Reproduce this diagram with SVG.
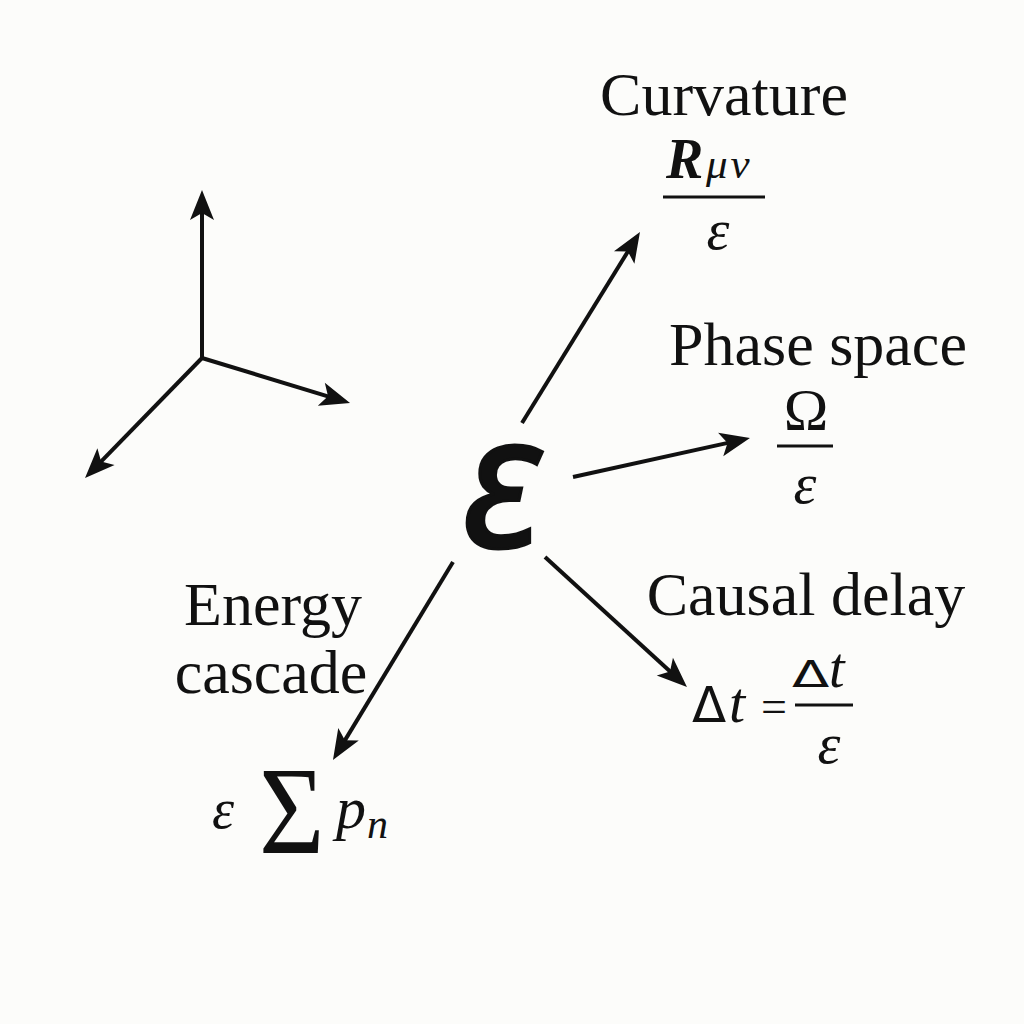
<svg xmlns="http://www.w3.org/2000/svg" width="1024" height="1024" viewBox="0 0 1024 1024">
<defs>
<style>
.lbl{font-family:"Liberation Serif","Times New Roman",serif;font-size:62px;fill:#111;text-anchor:middle}
.m{font-family:"Liberation Serif","Times New Roman",serif;fill:#111}
.s{font-family:"DejaVu Sans","Liberation Sans",sans-serif;fill:#111}
.i{font-style:italic}
.ln{stroke:#111;stroke-width:4;fill:none;stroke-linecap:butt;stroke-linejoin:miter}
.bar{stroke:#111;stroke-width:3}
</style>
<marker id="ah" markerUnits="userSpaceOnUse" markerWidth="34" markerHeight="28" viewBox="-14 -14 34 28" refX="0" refY="0" orient="auto" overflow="visible">
<path d="M18,0 L-12,-12 L-5,0 L-12,12 Z" fill="#111"/>
</marker>
</defs>
<rect width="1024" height="1024" fill="#fcfcfa"/>

<g id="axes">
<line class="ln" x1="202" y1="358" x2="202" y2="208" marker-end="url(#ah)"/>
<line class="ln" x1="202" y1="358" x2="332.8" y2="397.8" marker-end="url(#ah)"/>
<line class="ln" x1="202" y1="358" x2="97.6" y2="465.1" marker-end="url(#ah)"/>
</g>

<g id="connectors">
<line class="ln" x1="522" y1="423" x2="630.5" y2="247.3" marker-end="url(#ah)"/>
<line class="ln" x1="573" y1="477" x2="732.4" y2="441.9" marker-end="url(#ah)"/>
<line class="ln" x1="545" y1="557" x2="673.7" y2="674.8" marker-end="url(#ah)"/>
<line class="ln" x1="453" y1="562" x2="342.3" y2="744.6" marker-end="url(#ah)"/>
</g>

<g id="center">
<text x="501" y="547" text-anchor="middle" style="font-family:'Noto Sans','DejaVu Sans',sans-serif;font-weight:normal;font-style:italic;font-size:186px;stroke:#111;stroke-width:3;fill:#111">ε</text>
</g>

<g id="curvature">
<text class="lbl" x="724" y="115">Curvature</text>
<text class="m i" x="666" y="178" style="font-weight:bold;font-size:56px">R</text>
<text class="m i" x="706" y="178" style="font-size:43px;letter-spacing:3px">μν</text>
<line class="bar" x1="663" y1="197" x2="765" y2="197"/>
<text class="m i" x="718" y="249" text-anchor="middle" style="font-size:58px">ε</text>
</g>

<g id="phase">
<text class="lbl" x="818" y="365">Phase space</text>
<text class="m" x="806" y="430" text-anchor="middle" style="font-size:60px">Ω</text>
<line class="bar" x1="777" y1="446" x2="833" y2="446"/>
<text class="m i" x="805" y="503" text-anchor="middle" style="font-size:58px">ε</text>
</g>

<g id="causal">
<text class="lbl" x="806" y="615">Causal delay</text>
<text class="s" x="692" y="722" style="font-size:50px">Δ</text>
<text class="m i" x="729" y="722" style="font-size:58px">t</text>
<text class="m" x="761" y="722" style="font-size:46px">=</text>
<text class="s" transform="translate(792,687) scale(1.05,0.7)" style="font-size:52px">Δ</text>
<text class="m i" x="829" y="687" style="font-size:56px">t</text>
<line class="bar" x1="795" y1="705" x2="853" y2="705"/>
<text class="m i" x="829" y="763" text-anchor="middle" style="font-size:58px">ε</text>
</g>

<g id="energy">
<text class="lbl" x="273" y="625">Energy</text>
<text class="lbl" x="271" y="693">cascade</text>
<text class="m i" x="212" y="828" style="font-size:56px">ε</text>
<text class="m" transform="translate(259,853) scale(0.9,1)" style="font-size:125px">Σ</text>
<text class="m i" x="336" y="828" style="font-size:60px">p</text>
<text class="m i" x="367" y="838" style="font-size:42px">n</text>
</g>
</svg>
